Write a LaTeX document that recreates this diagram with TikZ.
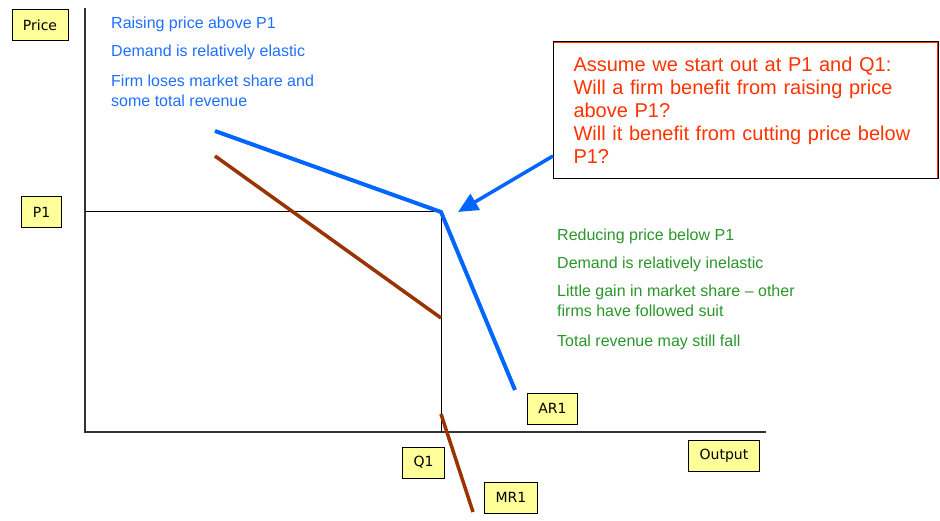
\documentclass[tikz,border=0pt]{standalone}
\usepackage{fontspec}
\setmainfont{Liberation Sans}
\newfontfamily\labelfont{DejaVu Sans}
\usetikzlibrary{arrows.meta}
\definecolor{arblue}{HTML}{0066FF}
\definecolor{noteblue}{HTML}{1F6FFF}
\definecolor{notegreen}{HTML}{2A962A}
\definecolor{notered}{HTML}{FF3300}
\definecolor{mrbrown}{HTML}{993300}
\definecolor{labelyellow}{HTML}{FFFF99}
\tikzset{
  labelbox/.style={draw=black,fill=labelyellow,line width=0.8pt,inner xsep=11pt,
    minimum height=31pt,font=\labelfont\fontsize{14}{16}\selectfont},
  note/.style={anchor=north west,align=left,inner sep=0pt,font=\fontsize{16}{20}\selectfont},
  ar/.style={arblue,line width=4pt},
  mr/.style={mrbrown,line width=3.5pt},
}
\begin{document}
\begin{tikzpicture}[x=1pt,y=-1pt]
\useasboundingbox (0,0) rectangle (940,521);
% axes
\coordinate (ytop) at (85,8);
\coordinate (origin) at (85,432);
\coordinate (xend) at (766,432);
\draw[line width=1.5pt,black!80] (ytop) -- (origin) -- (xend);
% P1 and Q1
\coordinate (p1) at (85,212);
\coordinate (kink) at (441,212);
\coordinate (q1) at (441,432);
\draw[line width=1pt] (p1) -- (kink) -- (q1);
% AR1 and MR1
\coordinate (ar0) at (215,131);
\coordinate (ar1) at (515,390);
\draw[ar] (ar0) -- (kink) -- (ar1);
\coordinate (mr0) at (215,156);
\coordinate (mrgap) at (441,318);
\coordinate (mrlow) at (441,414);
\coordinate (mr1) at (473,512);
\draw[mr] (mr0) -- (mrgap);
\draw[mr] (mrlow) -- (mr1);
% labels
\node[labelbox] (price) at (40,25) {Price};
\node[labelbox] (p1lab) at (41.5,212) {P1};
\node[labelbox] (arlab) at (552.5,408.5) {AR1};
\node[labelbox] (qlab) at (423.5,462.5) {Q1};
\node[labelbox] (mrlab) at (511,497.5) {MR1};
\node[labelbox] (outlab) at (724,455.5) {Output};
% notes
\node[note,noteblue] (up1) at (111,17) {Raising price above P1};
\node[note,noteblue] (up2) at (111,45) {Demand is relatively elastic};
\node[note,noteblue] (up3) at (111,75) {Firm loses market share and\\some total revenue};
\node[note,notegreen] (down1) at (557,229) {Reducing price below P1};
\node[note,notegreen] (down2) at (557,257) {Demand is relatively inelastic};
\node[note,notegreen] (down3) at (557,285) {Little gain in market share -- other\\firms have followed suit};
\node[note,notegreen] (down4) at (557,335) {Total revenue may still fall};
% question box
\node[draw,line width=1pt,anchor=north west,minimum width=384pt,minimum height=136pt,
  inner xsep=20pt,text width=344pt,align=left,notered,
  font=\fontsize{20}{23}\selectfont] (question) at (553,42)
  {Assume we start out at P1 and Q1:\\Will a firm benefit from raising price\\above P1?\\Will it benefit from cutting price below\\P1?};
\draw[black,line width=1pt] (question.north west) rectangle (question.south east);
\coordinate (arrowtip) at (458,212);
\draw[arblue,line width=3.5pt,-{Triangle[length=20pt,width=18pt]}]
  ([yshift=23pt]question.south west) -- (arrowtip);
\end{tikzpicture}
\end{document}
